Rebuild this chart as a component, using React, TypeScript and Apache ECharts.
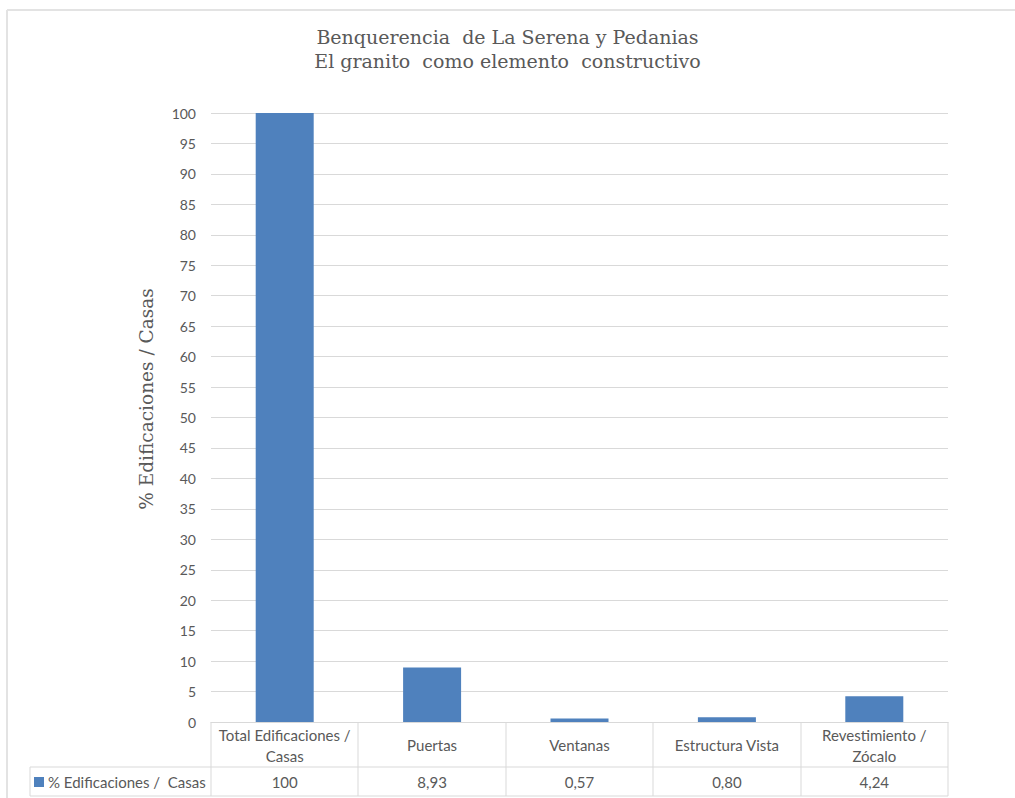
import React, { useEffect, useRef } from "react";
import * as echarts from "echarts";

const titleLines = ["Benquerencia  de La Serena y Pedanias", "El granito  como elemento  constructivo"];
const categories = ["Total Edificaciones /\nCasas", "Puertas", "Ventanas", "Estructura Vista", "Revestimiento /\nZócalo"];
const seriesName = "% Edificaciones /  Casas";
const values = [100, 8.93, 0.57, 0.8, 4.24];
const yAxisTitle = "% Edificaciones / Casas";
const yMin = 0;
const yMax = 100;
const yInterval = 5;

const fmt = (v: number) => (Number.isInteger(v) && v >= 100 ? String(v) : v.toFixed(2).replace(".", ","));

const W = 1015;
const H = 798;
const GL = 211;
const GR = 948;
const GT = 113;
const GB = 722;
const ROW1 = 767;
const ROW2 = 796;
const TABLE_LEFT = 30;
const TEXT = "#595959";
const LINE = "#D9D9D9";
const BAR = "#4F81BD";
const SANS = "Lato, 'Open Sans', sans-serif";
const SERIF = "'DejaVu Serif', serif";

export default function App() {
  const ref = useRef<HTMLDivElement>(null);
  useEffect(() => {
    document.body.style.margin = "0";
    const chart = echarts.init(ref.current!, undefined, { renderer: "svg" });
    const colW = (GR - GL) / categories.length;
    const lineStyle = { stroke: LINE, lineWidth: 1 };
    const graphics: any[] = [
      { type: "line", shape: { x1: 7, y1: 10, x2: W, y2: 10 }, style: { stroke: "#E3E3E3", lineWidth: 2 }, silent: true },
      { type: "line", shape: { x1: 7, y1: 10, x2: 7, y2: H }, style: { stroke: "#E3E3E3", lineWidth: 2 }, silent: true },
      { type: "line", shape: { x1: TABLE_LEFT, y1: ROW1, x2: GR, y2: ROW1 }, style: lineStyle, silent: true },
      { type: "line", shape: { x1: TABLE_LEFT, y1: ROW2, x2: GR, y2: ROW2 }, style: lineStyle, silent: true },
      { type: "line", shape: { x1: TABLE_LEFT, y1: ROW1, x2: TABLE_LEFT, y2: ROW2 }, style: lineStyle, silent: true },
      { type: "rect", shape: { x: 34, y: 777, width: 10, height: 10 }, style: { fill: BAR }, silent: true },
      {
        type: "text",
        x: 48,
        y: (ROW1 + ROW2) / 2,
        style: { text: seriesName, fill: TEXT, font: `15px ${SANS}`, verticalAlign: "middle", align: "left" },
        silent: true,
      },
      {
        type: "text",
        x: 146,
        y: 399,
        rotation: Math.PI / 2,
        style: { text: yAxisTitle, fill: TEXT, font: `18.5px ${SERIF}`, align: "center", verticalAlign: "middle" },
        silent: true,
      },
    ];
    for (let i = 0; i <= categories.length; i++) {
      const x = Math.round(GL + i * colW);
      graphics.push({ type: "line", shape: { x1: x, y1: GB, x2: x, y2: ROW2 }, style: lineStyle, silent: true });
    }
    chart.setOption({
      animation: false,
      backgroundColor: "#fff",
      title: {
        text: titleLines.join("\n"),
        left: "center",
        top: 20,
        textStyle: { fontFamily: SERIF, fontSize: 19, fontWeight: "normal", color: TEXT, lineHeight: 24 },
      },
      grid: { left: GL, right: W - GR, top: GT, bottom: H - GB, containLabel: false },
      xAxis: [
        {
          type: "category",
          data: categories,
          axisLine: { show: true, lineStyle: { color: LINE } },
          axisTick: { show: false },
          axisLabel: { color: TEXT, fontFamily: SANS, fontSize: 15, lineHeight: 21, margin: 23, verticalAlign: "middle", interval: 0 },
        },
        {
          type: "category",
          position: "bottom",
          offset: ROW1 - GB,
          data: values.map(fmt),
          axisLine: { show: false },
          axisTick: { show: false },
          axisLabel: { color: TEXT, fontFamily: SANS, fontSize: 15, margin: 15, verticalAlign: "middle", interval: 0 },
        },
      ],
      yAxis: {
        type: "value",
        min: yMin,
        max: yMax,
        interval: yInterval,
        axisLine: { show: false },
        axisTick: { show: false },
        axisLabel: { color: TEXT, fontFamily: SANS, fontSize: 14, margin: 15 },
        splitLine: { lineStyle: { color: LINE } },
      },
      series: [
        {
          name: seriesName,
          type: "bar",
          data: values,
          barWidth: 58,
          itemStyle: { color: BAR },
        },
      ],
      graphic: graphics,
    });
    return () => chart.dispose();
  }, []);
  return <div ref={ref} style={{ width: W, height: H }} />;
}
